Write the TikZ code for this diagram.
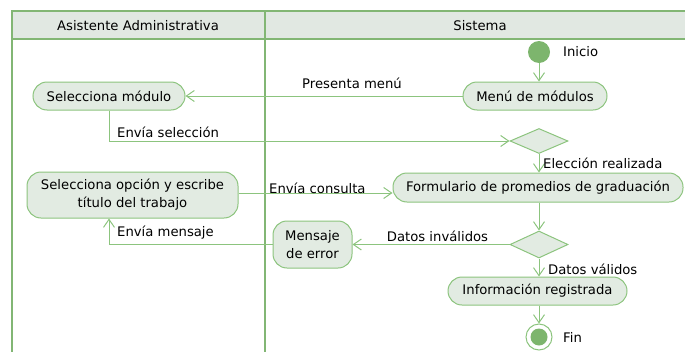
\documentclass[tikz,border=0pt]{standalone}
\usepackage{fontspec}
\setmainfont{DejaVu Sans}
\usetikzlibrary{arrows.meta,shapes.geometric}
\definecolor{marco}{HTML}{82B674}
\definecolor{linea}{HTML}{8CC47E}
\definecolor{relleno}{HTML}{E2EBE2}
\definecolor{cabecera}{HTML}{E1E8E2}
\definecolor{punto}{HTML}{7DB56D}
\begin{document}
\begin{tikzpicture}[x=1pt, y=-1pt, font=\fontsize{13.2}{18}\selectfont,
    accion/.style={rectangle, rounded corners=14pt, draw=linea, fill=relleno,
      line width=1pt, minimum height=28pt, inner sep=1pt, align=center},
    decision/.style={diamond, draw=linea, fill=relleno, line width=1pt,
      inner sep=0pt, minimum width=58pt, minimum height=25pt},
    flecha/.style={draw=linea, line width=1pt,
      -{Straight Barb[length=8pt, width=11pt, line width=1pt]}},
    rotulo/.style={inner sep=0pt}]
  \useasboundingbox (0,0) rectangle (685,351);
  \clip (0,0) rectangle (685,351);
  % calles
  \fill[cabecera] (12,11) rectangle (700,39);
  \draw[marco, line width=2pt] (12,360) -- (12,11) -- (700,11);
  \draw[marco, line width=2pt] (12,39) -- (700,39);
  \draw[marco, line width=2pt] (265,11) -- (265,360);
  \node[rotulo] (calle1) at (138,25.5) {Asistente Administrativa};
  \node[rotulo] (calle2) at (480,25.5) {Sistema};
  % nodos
  \node[circle, fill=punto, minimum size=22pt, inner sep=0pt] (ini) at (539,52) {};
  \node[rotulo, anchor=west] (tini) at (563,52) {Inicio};
  \node[accion, minimum width=144pt] (menu) at (535,96) {Menú de módulos};
  \node[accion, minimum width=152pt] (smod) at (109,96) {Selecciona módulo};
  \node[decision] (d1) at (539,141) {};
  \node[accion, minimum width=290pt, minimum height=29pt] (form) at (538,187.5)
    {Formulario de promedios de graduación};
  \node[accion, minimum width=211pt, minimum height=46pt] (sop) at (132.5,195)
    {Selecciona opción y escribe\\título del trabajo};
  \node[decision, minimum height=27pt] (d2) at (539,244.5) {};
  \node[accion, minimum width=79pt, minimum height=47pt] (merr) at (312.5,244.5)
    {Mensaje\\de error};
  \node[accion, minimum width=179pt] (info) at (537.5,291) {Información registrada};
  \node[circle, draw=linea, fill=white, line width=1pt, minimum size=26pt,
    inner sep=0pt] (fin) at (539,337) {};
  \fill[punto] (fin.center) circle (8.5pt);
  \node[rotulo, anchor=west] (tfin) at (563,337) {Fin};
  % flujos
  \draw[flecha] (ini) -- (ini |- menu.north);
  \draw[flecha] (menu.west) -- (smod.east);
  \draw[flecha] (smod.south) |- (d1.west);
  \draw[flecha] (d1.south) -- (d1.south |- form.north);
  \draw[flecha] ([yshift=2pt]sop.east) -- ([yshift=2pt]sop.east -| form.west);
  \draw[flecha] (form.south -| d2) -- (d2.north);
  \draw[flecha] (d2.west) -- (merr.east);
  \draw[flecha] (merr.west) -| (smod.south |- sop.south);
  \draw[flecha] (d2.south) -- (d2.south |- info.north);
  \draw[flecha] (info.south -| fin) -- (fin.north);
  % rotulos de flujos
  \node[rotulo] (tpres) at (352,83) {Presenta menú};
  \node[rotulo, anchor=west] (tsel) at (117,132) {Envía selección};
  \node[rotulo, anchor=west] (telec) at (543,163) {Elección realizada};
  \node[rotulo, anchor=west] (tcons) at (269,188) {Envía consulta};
  \node[rotulo] (tinv) at (437.5,236) {Datos inválidos};
  \node[rotulo, anchor=west] (tmen) at (117,233) {Envía mensaje};
  \node[rotulo, anchor=west] (tval) at (548,269) {Datos válidos};
\end{tikzpicture}
\end{document}
